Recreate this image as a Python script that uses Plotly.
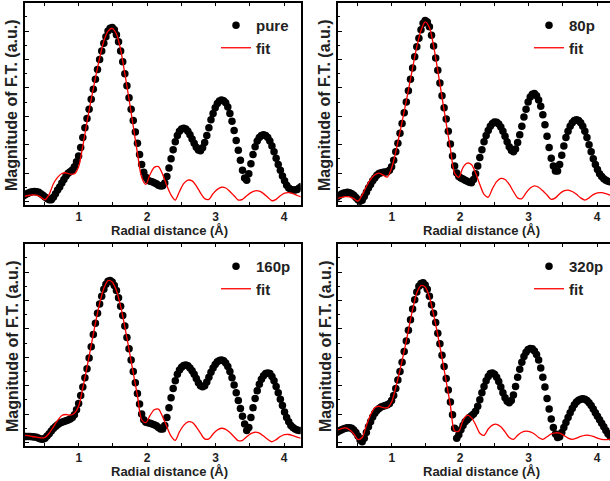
import plotly.graph_objects as go
from plotly.subplots import make_subplots

# Radial grid of the Fourier transform (Angstrom)
R_START = 0.2
R_STEP = 0.0307
N_POINTS = 133
R = [round(R_START + R_STEP * i, 4) for i in range(N_POINTS)]
R_FIT = R[::2]

SAMPLES = ["pure", "80p", "160p", "320p"]

# |FT| of the measured spectra (a.u.)
DATA_PURE = [0.42,0.5,0.58,0.64,0.68,0.70,0.69,0.64,0.55,0.44,
             0.32,0.2,0.12,0.12,0.3,0.55,0.8,1.02,1.3,1.55,
             1.8,1.98,2.1,2.22,2.45,2.8,3.2,3.8,4.5,5.2,
             5.85,6.5,7.2,7.9,8.6,9.3,10.0,10.6,11.15,11.6,
             12.0,12.2,12.25,12.1,11.75,11.25,10.6,9.85,9.0,8.15,
             7.3,6.5,5.7,4.9,4.1,3.3,2.6,2.05,1.7,1.5,
             1.42,1.38,1.32,1.25,1.15,1.08,1.1,1.3,1.75,2.35,
             3.0,3.65,4.2,4.65,4.95,5.1,5.15,5.1,4.95,4.7,
             4.4,4.1,3.82,3.62,3.58,3.78,4.15,4.65,5.2,5.75,
             6.2,6.6,6.9,7.08,7.15,7.1,6.95,6.65,6.2,5.65,
             5.0,4.3,3.6,2.9,2.2,1.65,1.5,1.95,2.65,3.3,
             3.85,4.25,4.5,4.65,4.7,4.65,4.5,4.25,3.9,3.5,
             3.05,2.6,2.2,1.8,1.45,1.15,0.95,0.85,0.8,0.8,
             0.85,0.95,1.05]

DATA_80P = [0.3,0.4,0.5,0.57,0.62,0.64,0.62,0.55,0.43,0.28,
            0.12,0.02,0.08,0.35,0.65,0.95,1.2,1.45,1.65,1.85,
            1.97,2.03,2.05,2.07,2.1,2.2,2.45,2.9,3.5,4.1,
            4.8,5.5,6.25,7.0,7.8,8.6,9.4,10.2,10.9,11.5,
            12.1,12.55,12.75,12.65,12.3,11.7,10.95,10.1,9.25,8.35,
            7.45,6.6,5.8,4.95,4.05,3.2,2.5,2.0,1.75,1.65,
            1.58,1.5,1.42,1.35,1.32,1.55,1.95,2.5,3.1,3.65,
            4.2,4.65,5.0,5.3,5.5,5.6,5.58,5.45,5.25,4.95,
            4.6,4.2,3.85,3.6,3.5,3.7,4.15,4.7,5.3,5.95,
            6.5,7.0,7.35,7.55,7.6,7.45,7.15,6.7,6.1,5.4,
            4.6,3.8,3.05,2.5,2.15,2.15,2.6,3.25,3.9,4.5,
            4.95,5.3,5.55,5.7,5.75,5.7,5.55,5.3,4.95,4.5,
            4.0,3.5,3.0,2.6,2.25,1.95,1.75,1.6,1.5,1.42,
            1.38,1.35,1.33]

DATA_160P = [0.42,0.42,0.42,0.42,0.41,0.39,0.36,0.3,0.25,0.22,
             0.3,0.45,0.62,0.8,0.98,1.12,1.25,1.35,1.42,1.48,
             1.52,1.58,1.65,1.75,1.95,2.3,2.75,3.3,3.9,4.55,
             5.2,5.95,6.75,7.6,8.4,9.1,9.75,10.3,10.8,11.15,
             11.35,11.4,11.3,11.05,10.7,10.2,9.6,8.95,8.2,7.4,
             6.6,5.8,5.0,4.2,3.45,2.7,2.0,1.6,1.42,1.38,
             1.35,1.3,1.25,1.18,1.05,0.95,0.95,1.2,1.75,2.45,
             3.15,3.8,4.35,4.8,5.1,5.3,5.42,5.45,5.4,5.25,
             5.05,4.8,4.5,4.2,4.0,3.92,4.0,4.25,4.6,4.95,
             5.25,5.5,5.68,5.78,5.8,5.75,5.6,5.35,5.0,4.55,
             4.05,3.5,2.95,2.4,1.85,1.3,0.85,1.05,1.75,2.45,
             3.1,3.65,4.1,4.45,4.7,4.85,4.9,4.85,4.65,4.35,
             3.95,3.5,3.05,2.6,2.15,1.75,1.45,1.2,1.05,0.95,
             0.88,0.85,0.85]

DATA_320P = [0.72,0.8,0.88,0.95,1.0,1.03,1.04,1.0,0.88,0.7,
             0.45,0.18,0.05,0.3,0.7,1.1,1.45,1.8,2.05,2.25,
             2.4,2.5,2.55,2.6,2.65,2.75,2.95,3.3,3.8,4.4,
             5.0,5.65,6.4,7.15,7.9,8.65,9.4,10.05,10.6,11.0,
             11.2,11.25,11.1,10.8,10.3,9.7,9.1,8.45,7.7,6.95,
             6.15,5.35,4.5,3.7,2.85,1.95,1.0,0.3,0.55,0.9,
             1.2,1.45,1.6,1.75,1.88,2.0,2.2,2.55,3.0,3.5,
             3.95,4.35,4.65,4.85,4.9,4.8,4.6,4.3,3.9,3.5,
             3.15,2.9,2.8,2.95,3.35,3.95,4.6,5.15,5.65,6.05,
             6.35,6.55,6.62,6.6,6.45,6.2,5.8,5.25,4.6,3.9,
             3.1,2.35,1.65,1.05,0.6,0.35,0.4,0.7,1.05,1.4,
             1.75,2.1,2.4,2.65,2.85,2.98,3.05,3.07,3.05,2.95,
             2.8,2.6,2.35,2.1,1.85,1.6,1.35,1.1,0.85,0.62,
             0.45,0.35,0.3]

# |FT| of the fitted models (a.u.), on every second grid point
FIT_PURE = [0.35,0.42,0.46,0.44,0.3,0.12,0.5,1.25,1.7,1.97,
            2.02,1.92,1.95,2.45,3.9,5.6,7.2,8.7,10.1,11.3,
            12.0,12.2,11.8,10.7,9.0,7.2,5.3,3.4,1.7,1.2,
            1.9,2.4,2.45,1.9,1.1,0.45,0.1,0.7,1.25,1.5,
            1.45,1.1,0.6,0.2,0.15,0.55,0.85,1.0,0.95,0.7,
            0.4,0.1,0.15,0.4,0.62,0.75,0.72,0.55,0.3,0.05,
            0.15,0.4,0.58,0.62,0.55,0.42,0.32]

FIT_80P = [0.2,0.28,0.34,0.33,0.2,0.02,0.45,1.05,1.55,1.88,
           2.0,1.85,1.72,2.35,3.5,4.9,6.35,7.85,9.4,10.9,
           12.05,12.65,12.25,10.95,9.2,7.35,5.5,3.7,2.0,1.7,
           2.4,2.7,2.6,2.0,1.2,0.5,0.3,0.9,1.4,1.62,
           1.55,1.2,0.7,0.25,0.2,0.6,0.95,1.1,1.0,0.75,
           0.45,0.15,0.25,0.55,0.75,0.8,0.7,0.5,0.25,0.1,
           0.25,0.48,0.6,0.62,0.55,0.45,0.38]

FIT_160P = [0.5,0.48,0.42,0.37,0.32,0.35,0.65,1.1,1.55,1.9,
            1.97,1.92,2.05,2.55,3.85,5.3,6.85,8.4,9.8,10.85,
            11.4,11.3,10.7,9.6,8.15,6.55,4.9,3.3,1.6,1.4,
            1.9,2.3,2.35,1.8,1.1,0.45,0.15,0.75,1.2,1.45,
            1.42,1.1,0.65,0.25,0.25,0.6,0.88,1.0,0.92,0.7,
            0.4,0.12,0.15,0.4,0.62,0.72,0.65,0.45,0.22,0.05,
            0.2,0.42,0.55,0.56,0.48,0.38,0.3]

FIT_320P = [0.85,0.98,1.03,0.9,0.6,0.2,0.35,1.2,1.95,2.45,
            2.55,2.45,2.45,2.85,3.9,5.1,6.45,7.9,9.35,10.55,
            11.05,10.95,10.25,9.0,7.55,5.95,4.3,2.6,0.8,0.8,
            1.55,1.92,1.75,1.25,0.65,0.5,0.95,1.22,1.28,1.1,
            0.75,0.35,0.22,0.5,0.72,0.8,0.75,0.6,0.35,0.22,
            0.4,0.6,0.68,0.65,0.5,0.3,0.22,0.3,0.42,0.5,
            0.5,0.42,0.3,0.22,0.2,0.22,0.25]

DATA = [DATA_PURE, DATA_80P, DATA_160P, DATA_320P]
FITS = [FIT_PURE, FIT_80P, FIT_160P, FIT_320P]

X_TICKS = [0.5, 1, 1.5, 2, 2.5, 3, 3.5, 4]
X_TICK_TEXT = ["", "1", "", "2", "", "3", "", "4"]

W, H = 610, 481
FONT = "Liberation Sans, Arial, Helvetica, sans-serif"

# panel boxes in pixels: (left, right, top, bottom)
PANELS = [(25, 300.5, 3, 205), (338, 610, 3, 205),
          (25, 300.5, 244, 446), (338, 610, 244, 446)]
X_RANGES = [[0.215, 4.24], [0.215, 4.19], [0.215, 4.24], [0.215, 4.19]]
Y_RANGE = [-0.25, 13.98]

fig = make_subplots(rows=2, cols=2)

for k in range(4):
    row, col = k // 2 + 1, k % 2 + 1
    leg = "legend" if k == 0 else f"legend{k + 1}"
    fig.add_trace(go.Scatter(
        x=R, y=DATA[k], mode="markers", name=SAMPLES[k],
        marker=dict(color="black", size=7.5, line=dict(width=0)),
        legend=leg), row=row, col=col)
    fig.add_trace(go.Scatter(
        x=R_FIT, y=FITS[k], mode="lines", name="fit",
        line=dict(color="#ff0000", width=1.3, shape="spline", smoothing=0.8),
        legend=leg), row=row, col=col)

layout_updates = {}
annotations = []
for k, (l, r, t, b) in enumerate(PANELS):
    ax = "" if k == 0 else str(k + 1)
    right_col = k % 2 == 1
    layout_updates[f"xaxis{ax}"] = dict(
        domain=[l / W, r / W], range=X_RANGES[k],
        showline=True, linecolor="black", linewidth=1.6,
        mirror="ticks", ticks="inside", ticklen=3, tickwidth=1.2,
        tickcolor="black", tickvals=X_TICKS, ticktext=X_TICK_TEXT,
        showgrid=False, zeroline=False,
        tickfont=dict(family=FONT, size=12, color="#222", weight="bold"))
    layout_updates[f"yaxis{ax}"] = dict(
        domain=[1 - b / H, 1 - t / H], range=Y_RANGE,
        showline=True, linecolor="black", linewidth=1.6,
        mirror=False if right_col else True,
        ticks="inside", ticklen=4, tickwidth=1.2, tickcolor="black",
        tick0=0, dtick=2, showticklabels=False,
        minor=dict(ticks="inside", ticklen=2, dtick=1, tick0=0,
                   tickcolor="black", tickwidth=1.2),
        showgrid=False, zeroline=False)
    # axis titles
    annotations.append(dict(
        text="Radial distance (Å)", xref="paper", yref="paper",
        x=(l + 144) / W, y=1 - (b + 25) / H, xanchor="center", yanchor="middle",
        showarrow=False, font=dict(family=FONT, size=13, color="#222", weight="bold")))
    annotations.append(dict(
        text="Magnitude of F.T. (a.u.)", xref="paper", yref="paper",
        x=(l - 13) / W, y=1 - (t + 102) / H, xanchor="center", yanchor="middle",
        textangle=-90, showarrow=False,
        font=dict(family=FONT, size=16, color="#222", weight="bold")))
    # legend box
    leg = "legend" if k == 0 else f"legend{k + 1}"
    dot_x = l + 213
    layout_updates[leg] = dict(
        x=(dot_x - 22) / W, y=1 - (t + 6) / H, xanchor="left", yanchor="top",
        bgcolor="rgba(0,0,0,0)", borderwidth=0, tracegroupgap=0,
        font=dict(family=FONT, size=15, color="#222", weight="bold"),
        itemwidth=30)

fig.update_layout(**layout_updates)
fig.update_layout(
    width=W, height=H, margin=dict(l=0, r=0, t=0, b=0),
    paper_bgcolor="white", plot_bgcolor="white",
    annotations=annotations, showlegend=True)

fig.write_html("out.html")
